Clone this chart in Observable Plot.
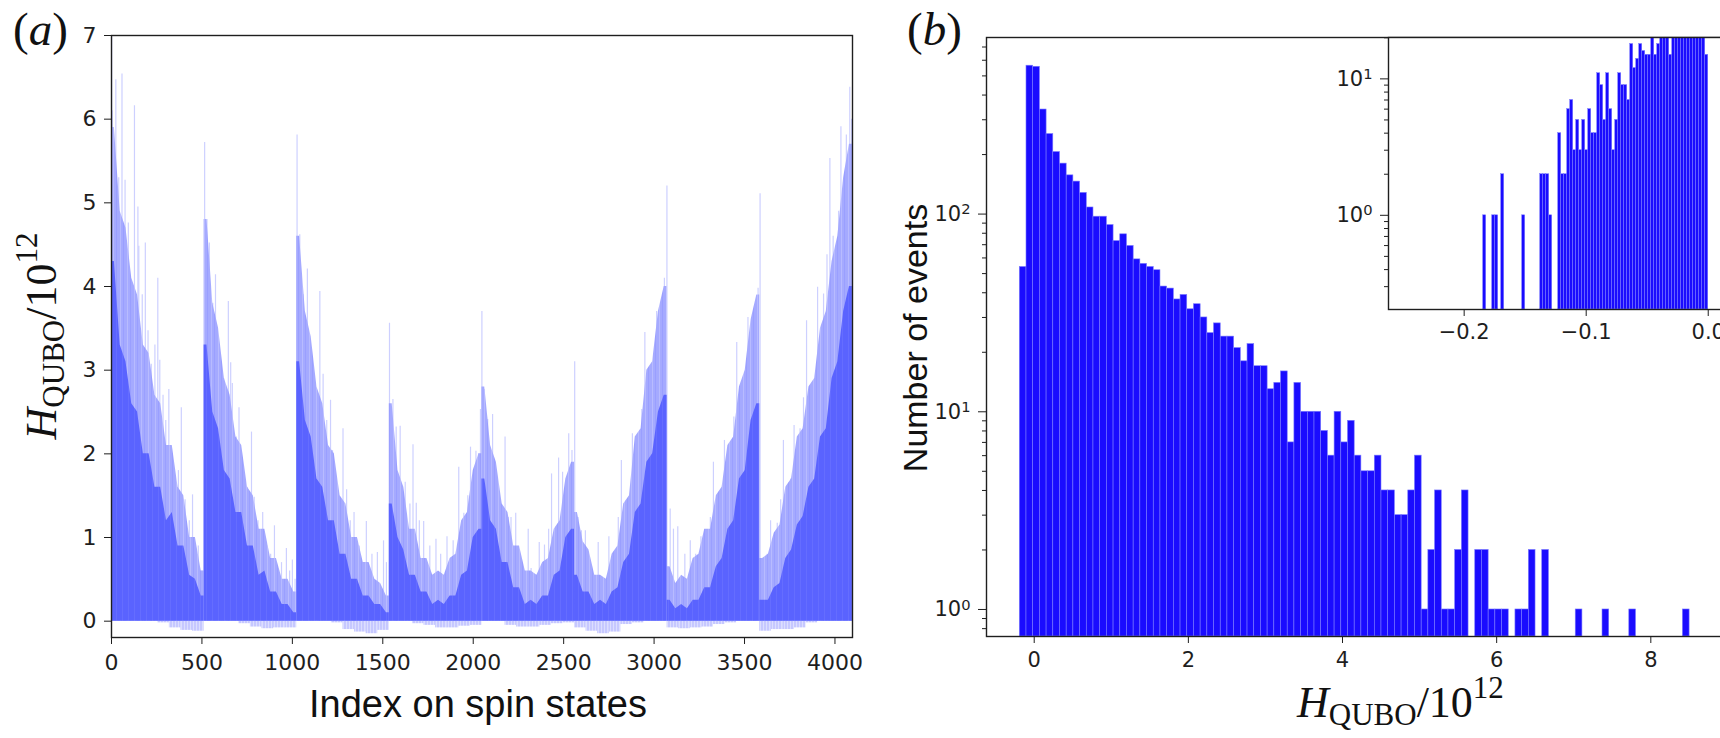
<!DOCTYPE html>
<html><head><meta charset="utf-8">
<script src="https://cdn.jsdelivr.net/npm/d3@7"></script>
<script src="https://cdn.jsdelivr.net/npm/@observablehq/plot@0.6"></script>
<style>
html,body{margin:0;padding:0;background:#fff;overflow:hidden}
#root{position:relative;width:1720px;height:738px;overflow:hidden;background:#fff}
#root svg{display:block}
</style></head>
<body><div id="root"></div>
<script>
// ---------------- DATA ----------------
// Panel (a): 4096 spin states, summarised in 32-index bins (8 blocks of 16 bins)
const spinCoreTop = [
 4.3,3.3,3.1,2.6,2.5,2.0,2.0,1.6,1.6,1.2,1.3,0.9,0.9,0.55,0.5,0.3,
 3.3,2.5,2.3,1.8,1.7,1.3,1.3,0.9,0.9,0.55,0.6,0.35,0.35,0.2,0.2,0.1,
 3.1,2.4,2.2,1.7,1.6,1.2,1.2,0.8,0.8,0.5,0.5,0.3,0.3,0.2,0.2,0.1,
 1.4,1.0,0.85,0.55,0.55,0.35,0.35,0.2,0.25,0.2,0.3,0.3,0.55,0.6,1.0,1.1,
 1.7,1.2,1.1,0.7,0.7,0.4,0.4,0.2,0.25,0.2,0.3,0.3,0.55,0.6,1.0,1.1,
 0.55,0.35,0.35,0.2,0.25,0.2,0.35,0.4,0.7,0.8,1.3,1.4,1.9,2.0,2.5,2.7,
 0.25,0.15,0.2,0.15,0.25,0.25,0.4,0.4,0.65,0.75,1.1,1.2,1.7,1.8,2.4,2.6,
 0.25,0.25,0.4,0.45,0.75,0.85,1.15,1.25,1.6,1.7,2.2,2.3,2.9,3.1,3.7,4.0
];
const spinMidTop = [
 5.9,4.9,4.7,4.1,3.9,3.3,3.2,2.7,2.6,2.1,2.1,1.6,1.5,1.0,1.0,0.6,
 4.8,3.8,3.5,2.9,2.7,2.2,2.1,1.6,1.5,1.1,1.1,0.75,0.75,0.5,0.5,0.35,
 4.6,3.7,3.4,2.8,2.6,2.1,2.0,1.5,1.4,1.0,1.0,0.7,0.7,0.5,0.45,0.3,
 2.6,1.8,1.6,1.1,1.1,0.75,0.75,0.55,0.6,0.55,0.75,0.8,1.2,1.3,1.8,2.0,
 2.8,2.1,1.9,1.4,1.3,0.9,0.9,0.6,0.6,0.55,0.7,0.75,1.1,1.2,1.7,1.9,
 1.3,0.95,0.85,0.55,0.55,0.5,0.8,0.9,1.4,1.5,2.2,2.3,3.0,3.1,3.7,4.0,
 0.65,0.45,0.55,0.5,0.75,0.8,1.1,1.1,1.5,1.6,2.1,2.2,2.8,3.0,3.6,3.9,
 0.75,0.8,1.05,1.15,1.6,1.7,2.2,2.3,2.8,2.9,3.5,3.7,4.3,4.6,5.3,5.7
];
// negative dips, 64-index bins
const spinDip = [
 0,0,0,0,-0.02,-0.08,-0.11,-0.12, 0,0,0,-0.03,-0.07,-0.09,-0.08,-0.08,
 0,0,0,-0.02,-0.1,-0.13,-0.15,-0.11, 0,0,-0.03,-0.05,-0.08,-0.08,-0.06,-0.05,
 0,0,-0.05,-0.07,-0.07,-0.05,-0.03,-0.02, -0.08,-0.12,-0.15,-0.13,-0.04,-0.02,0,0,
 -0.08,-0.09,-0.08,-0.07,-0.04,-0.02,0,0, -0.12,-0.1,-0.1,-0.08,-0.02,0,0,0
];
// individual tall spikes: index and value
const spikeIndex = [
 1,5,12,24,40,58,75,93,127,146,151,170,187,202,220,240,256,267,285,300,317,332,351,370,386,407,430,448,463,480,500,
 515,528,541,560,575,593,620,646,659,668,690,705,724,750,774,789,810,836,860,880,901,920,940,967,985,1000,1015,
 1026,1041,1060,1083,1100,1118,1152,1170,1190,1211,1222,1244,1280,1300,1320,1341,1370,1409,1440,1470,1504,1520,
 1537,1556,1574,1596,1624,1650,1667,1685,1702,1726,1760,1794,1820,1855,1889,1920,1948,1970,1985,2015,2030,2040,
 2048,2061,2080,2107,2124,2143,2176,2194,2209,2235,2268,2304,2320,2365,2394,2417,2433,2472,2494,2528,2546,
 2561,2580,2598,2620,2648,2691,2709,2750,2802,2819,2857,2880,2913,2932,2949,2972,2991,3014,3039,3057,3071,
 3089,3107,3131,3148,3170,3200,3230,3259,3293,3311,3328,3363,3389,3422,3441,3457,3496,3519,3548,3560,3575,3586,
 3607,3625,3644,3663,3681,3700,3715,3733,3755,3774,3807,3826,3843,3882,3904,3937,3956,3972,3990,4006,4020,4033,4050,4063,4082,4092
];
const spikeValue = [
 7.0,6.1,5.6,6.47,5.3,6.54,5.27,4.76,6.16,4.95,4.48,3.9,4.52,3.47,3.07,3.3,4.10,3.12,2.70,2.4,2.77,1.95,1.62,1.8,2.55,1.45,1.2,1.51,0.91,0.9,0.6,
 5.72,4.8,4.52,3.8,4.14,3.12,2.9,3.82,3.09,2.84,2.2,2.55,1.76,1.6,2.26,1.48,1.2,1.30,0.9,0.8,1.14,0.61,0.7,0.87,0.6,0.73,0.5,
 5.81,4.62,3.9,4.21,3.19,2.81,3.94,2.95,2.4,2.64,2.04,1.57,2.30,1.57,1.2,1.30,0.9,1.19,0.8,0.82,0.96,0.7,
 3.56,2.65,2.32,2.33,1.66,1.4,2.11,1.41,1.20,1.19,0.9,0.98,0.8,1.01,0.96,1.84,1.29,1.5,2.08,2.03,2.0,2.53,
 3.70,2.77,2.41,2.47,1.71,1.45,2.20,1.24,1.24,1.29,0.59,1.10,0.63,0.94,0.91,1.10,1.76,1.95,1.78,2.24,2.04,
 3.10,1.24,1.08,1.08,0.45,0.94,0.45,1.01,1.24,1.92,1.27,2.24,2.20,2.53,3.45,2.39,2.98,3.70,3.66,4.10,5.20,
 1.34,1.10,1.13,0.49,0.8,0.96,0.8,1.01,0.98,1.24,1.90,1.20,2.16,2.11,2.44,3.33,2.70,3.63,3.59,3.57,3.98,5.11,
 0.49,0.8,1.20,0.87,1.17,1.45,2.16,1.52,1.7,2.34,2.30,2.67,3.59,2.67,3.99,3.91,4.38,5.53,4.6,4.22,4.9,5.91,5.0,5.81,6.38,6.0
];
const spinTicksX = [0,500,1000,1500,2000,2500,3000,3500,4000];
const spinTicksY = [0,1,2,3,4,5,6,7];

// Panel (b): histogram of H_QUBO/1e12, 100 bins
const histStart = -0.187, histWidth = 0.0869;
const histCounts = [
 54,563,556,338,254,206,180,157,146,128,
 108,97,97,88,73,79,69,59,56,54,
 52,43,42,37,39,33,35,30,25,28,
 24,24,21,18,22,17,17,13,14,16,
 7,14,10,10,10,8,6,10,7,9,
 6,5,5,6,4,4,3,3,4,6,
 1,2,4,1,1,2,4,0,2,2,
 1,1,1,0,1,1,2,0,2,0,
 0,0,0,1,0,0,0,1,0,0,
 0,1,0,0,0,0,0,0,0,1
];
const histTicksX = [0,2,4,6,8];
const histTicksY = [1,10,100];
const histMinorY = [0.8,0.9,2,3,4,5,6,7,8,9,20,30,40,50,60,70,80,90,200,300,400,500,600,700];

// Inset: negative tail, 75 bins
const insetStart = -0.1844, insetWidth = 0.002459;
const insetCounts = [
 1,0,0,1,1,0,2,0,0,0,
 0,0,0,1,0,0,0,0,0,2,
 2,2,1,0,0,4,2,2,6,7,
 3,5,3,5,3,6,4,4,11,9,
 5,11,6,3,5,11,9,9,7,18,
 12,14,18,16,15,15,24,15,18,24,
 26,28,15,30,34,30,36,32,40,38,
 35,42,38,40,15
];
const insetTicksX = [-0.2,-0.1,0.0];
const insetTicksY = [1,10];
const insetMinorY = [0.3,0.4,0.5,0.6,0.7,0.8,0.9,2,3,4,5,6,7,8,9,20];

// ---------------- BUILD ----------------
const root = document.getElementById("root");
const SVGNS = "http://www.w3.org/2000/svg";
function place(el, left, top){ el.style.position="absolute"; el.style.left=left+"px"; el.style.top=top+"px"; root.appendChild(el); }
const ink = "#1e1e1e";
function powFmt(d){ return "10^" + Math.round(Math.log10(d)); }
function fixPow(svg){
  svg.querySelectorAll("text").forEach(t=>{
    const m = /^10\^(-?\d+)$/.exec(t.textContent.trim());
    if(!m) return;
    t.textContent = "";
    const a = document.createElementNS(SVGNS,"tspan"); a.textContent="10";
    const b = document.createElementNS(SVGNS,"tspan"); b.textContent=m[1];
    b.setAttribute("dy","-0.45em"); b.setAttribute("font-size","0.7em");
    t.appendChild(a); t.appendChild(b);
  });
}
const minus = d => String(d).replace("-","\u2212");

// area points: bin centres, plus the block's own first/last value held to its edges
const envPts = [];
spinCoreTop.forEach((v,i)=>{
  const blk = Math.floor(i/16), j = i%16, x0 = i*32;
  if (j===0) envPts.push({x:x0, core:v, mid:spinMidTop[i], blk});
  envPts.push({x:x0+16, core:v, mid:spinMidTop[i], blk});
  if (j===15) envPts.push({x:x0+32, core:v, mid:spinMidTop[i], blk});
});
const dipData = spinDip.map((v,i)=>({i0:i*64, i1:i*64+64, v}));
const spikeData = spikeIndex.map((x,i)=>({x, v:spikeValue[i]}));

const plotA = Plot.plot({
  width: 880, height: 738,
  marginLeft: 111, marginRight: 28, marginTop: 35, marginBottom: 101,
  style: {fontFamily:"DejaVu Sans", fontSize:"22px", color: ink, background:"transparent", overflow:"visible"},
  x: {domain:[0,4097]},
  y: {domain:[-0.195,7]},
  marks: [
    Plot.rect(dipData, {x1:"i0", x2:"i1", y1:0, y2:"v", fill:"url(#dipPat)"}),
    Plot.ruleX(spikeData, {x:"x", y1:0, y2:"v", stroke:"#cdd0ff", strokeWidth:1.2}),
    Plot.areaY(envPts, {x:"x", y1:0, y2:"mid", z:"blk", fill:"url(#midPat)", curve:"linear"}),
    Plot.areaY(envPts, {x:"x", y1:0, y2:"core", z:"blk", fill:"url(#corePat)", curve:"linear"}),
    Plot.frame({stroke: ink, strokeWidth:1.4}),
    Plot.axisX({ticks: spinTicksX, tickSize:7, tickPadding:10, tickFormat:d=>String(d), label:null, fontSize:22, stroke:ink}),
    Plot.axisY({ticks: spinTicksY, tickSize:7, tickPadding:8, tickFormat:d=>String(d), label:null, fontSize:22, stroke:ink})
  ]
});
// stripe patterns imitating the many thin overlapping bars
(function addPatterns(svg){
  const defs = document.createElementNS(SVGNS,"defs");
  function pat(id, w, base, lines){
    const p = document.createElementNS(SVGNS,"pattern");
    p.setAttribute("id",id); p.setAttribute("width",w); p.setAttribute("height",8);
    p.setAttribute("patternUnits","userSpaceOnUse");
    const r = document.createElementNS(SVGNS,"rect");
    r.setAttribute("width",w); r.setAttribute("height",8); r.setAttribute("fill",base); p.appendChild(r);
    lines.forEach(([x,wd,c])=>{
      const l = document.createElementNS(SVGNS,"rect");
      l.setAttribute("x",x); l.setAttribute("width",wd); l.setAttribute("height",8); l.setAttribute("fill",c); p.appendChild(l);
    });
    defs.appendChild(p);
  }
  pat("midPat", 7, "#a5aaff", [[1,1,"#b8bbff"],[4,0.8,"#979cff"]]);
  pat("corePat", 6, "#5a63ff", [[2,0.8,"#6870ff"]]);
  pat("dipPat", 3, "#c6c8ff", [[1,1,"#dcdeff"]]);
  svg.insertBefore(defs, svg.firstChild);
})(plotA);
place(plotA, 0, 0);

const histData = histCounts.map((c,i)=>({x1: histStart+i*histWidth, x2: histStart+(i+1)*histWidth, c})).filter(d=>d.c>0);
const plotB = Plot.plot({
  width: 850, height: 738,
  marginLeft: 106, marginRight: 8, marginTop: 37, marginBottom: 102,
  style: {fontFamily:"DejaVu Sans", fontSize:"21px", color: ink, background:"transparent", overflow:"visible"},
  x: {domain:[-0.619, 8.93]},
  y: {type:"log", domain:[0.73, 782]},
  marks: [
    Plot.rect(histData, {x1:"x1", x2:"x2", y1:0.73, y2:"c", fill:"#1a0cff", stroke:"#7a7aff", strokeWidth:0.6}),
    Plot.frame({stroke: ink, strokeWidth:1.4}),
    Plot.axisX({ticks: histTicksX, tickSize:7, tickPadding:9, tickFormat:d=>String(d), label:null, fontSize:21, stroke:ink}),
    Plot.axisY({ticks: histTicksY, tickSize:8, tickPadding:8, tickFormat:powFmt, label:null, fontSize:21, stroke:ink}),
    Plot.axisY({ticks: histMinorY, tickSize:4, tickFormat:()=>"", label:null, stroke:ink})
  ]
});
fixPow(plotB);
place(plotB, 880, 0);

const insetData = insetCounts.map((c,i)=>({x1: insetStart+i*insetWidth, x2: insetStart+(i+1)*insetWidth, c})).filter(d=>d.c>0);
const plotI = Plot.plot({
  width: 400, height: 360,
  marginLeft: 58, marginRight: 8, marginTop: 37, marginBottom: 51,
  style: {fontFamily:"DejaVu Sans", fontSize:"21px", color: ink, background:"transparent", overflow:"visible"},
  x: {domain:[-0.262, 0.0117]},
  y: {type:"log", domain:[0.204, 20.1]},
  marks: [
    Plot.frame({fill:"white", stroke:"none"}),
    Plot.rect(insetData, {x1:"x1", x2:"x2", y1:0.204, y2:"c", fill:"#1a0cff", stroke:"#7a7aff", strokeWidth:0.5, clip:true}),
    Plot.frame({stroke: ink, strokeWidth:1.4}),
    Plot.axisX({ticks: insetTicksX, tickSize:7, tickPadding:8, tickFormat:d=>minus(d.toFixed(1)), label:null, fontSize:21, stroke:ink}),
    Plot.axisY({ticks: insetTicksY, tickSize:8, tickPadding:8, tickFormat:powFmt, label:null, fontSize:21, stroke:ink}),
    Plot.axisY({ticks: insetMinorY, tickSize:4, tickFormat:()=>"", label:null, stroke:ink})
  ]
});
fixPow(plotI);
place(plotI, 1330, 0);

// ---------------- LABELS ----------------
const ov = d3.create("svg").attr("width",1720).attr("height",738)
  .style("position","absolute").style("left","0px").style("top","0px").style("pointer-events","none");
function panelLabel(x, letter){
  const t = ov.append("text").attr("x",x).attr("y",45).attr("font-family","Liberation Serif").attr("font-size",47).attr("fill","#111");
  t.append("tspan").text("(");
  t.append("tspan").attr("font-style","italic").text(letter);
  t.append("tspan").text(")");
}
panelLabel(13,"a");
panelLabel(907,"b");
function hLabel(g){
  g.attr("font-family","Liberation Serif").attr("font-size",44).attr("fill","#111");
  g.append("tspan").attr("font-style","italic").text("H");
  g.append("tspan").attr("font-size",31).attr("dy",8).text("QUBO");
  g.append("tspan").attr("dy",-8).text("/10");
  g.append("tspan").attr("font-size",31).attr("dy",-19).text("12");
}
hLabel(ov.append("text").attr("text-anchor","middle").attr("transform","translate(56,336) rotate(-90)"));
hLabel(ov.append("text").attr("x",1297).attr("y",717));
ov.append("text").attr("x",478).attr("y",717).attr("text-anchor","middle")
  .attr("font-family","Liberation Sans").attr("font-size",38).attr("fill","#111").text("Index on spin states");
ov.append("text").attr("text-anchor","middle").attr("transform","translate(927,338) rotate(-90)")
  .attr("font-family","Liberation Sans").attr("font-size",34).attr("fill","#111").text("Number of events");
root.appendChild(ov.node());
</script></body></html>
